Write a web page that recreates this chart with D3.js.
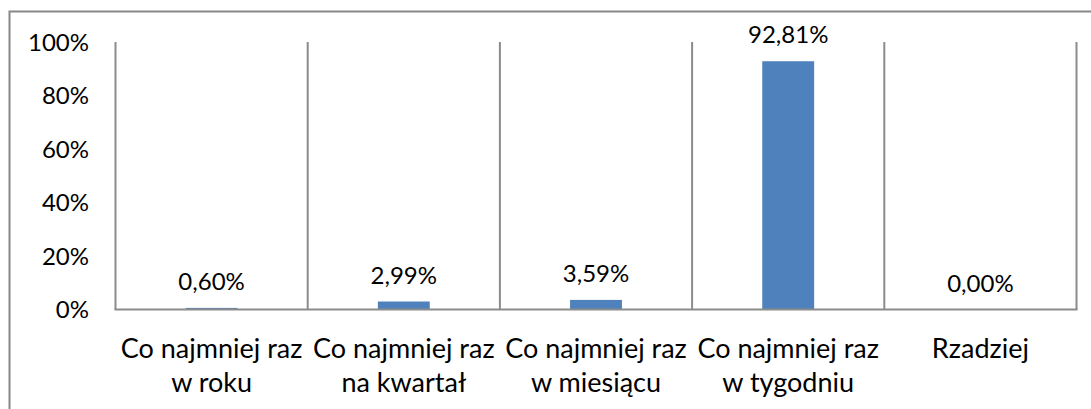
<!DOCTYPE html>
<html>
<head>
<meta charset="utf-8">
<script src="https://cdn.jsdelivr.net/npm/d3@7"></script>
<style>
  html, body { margin: 0; padding: 0; background: #fff; }
  svg { display: block; }
  text { font-family: Lato, "Open Sans", sans-serif; fill: #000; }
</style>
</head>
<body>
<svg id="chart" width="1091" height="409"></svg>
<script>
const categories = [
  ["Co najmniej raz", "w roku"],
  ["Co najmniej raz", "na kwartał"],
  ["Co najmniej raz", "w miesiącu"],
  ["Co najmniej raz", "w tygodniu"],
  ["Rzadziej"]
];
const values = [0.60, 2.99, 3.59, 92.81, 0.00];
const valueLabels = ["0,60%", "2,99%", "3,59%", "92,81%", "0,00%"];
const yTicks = [0, 20, 40, 60, 80, 100];

(function () {
const svg = d3.select("#chart");
const W = 1091, H = 409;
const fsNum = 24, fsCat = 27;

svg.append("rect")
  .attr("x", 9.5).attr("y", 11.5)
  .attr("width", W + 20).attr("height", H + 20)
  .attr("fill", "#fff").attr("stroke", "#888").attr("stroke-width", 2);

const pL = 115.5, pR = 1076.5, pT = 42, pB = 309.5;
const idx = categories.map((d, i) => i);
const x = d3.scaleBand().domain(idx).range([pL, pR]).padding(0);
const y = d3.scaleLinear().domain([0, 100]).range([pB, pT]);

const barW = x.bandwidth() * 0.27;
svg.append("g").selectAll("rect").data(values).join("rect")
  .attr("x", (d, i) => x(i) + x.bandwidth() / 2 - barW / 2)
  .attr("width", barW)
  .attr("y", d => y(d))
  .attr("height", d => Math.max(0, pB - y(d)))
  .attr("fill", "#4f81bd");

const bounds = idx.map(i => x(i)).concat([pR]);
svg.append("g").selectAll("line").data(bounds).join("line")
  .attr("x1", d => d).attr("x2", d => d)
  .attr("y1", y(100)).attr("y2", pB)
  .attr("stroke", "#8c8c8c").attr("stroke-width", 2);

svg.append("line")
  .attr("x1", pL - 1).attr("x2", pR + 1)
  .attr("y1", pB).attr("y2", pB)
  .attr("stroke", "#8c8c8c").attr("stroke-width", 2);

const yAxis = d3.axisLeft(y).tickValues(yTicks).tickSize(0).tickPadding(0)
  .tickFormat(d => d + "%");
const ya = svg.append("g").attr("transform", "translate(89,0)").call(yAxis);
ya.select(".domain").remove();
ya.selectAll("text")
  .attr("font-family", "Lato, sans-serif")
  .attr("font-size", fsNum).attr("fill", "#000")
  .attr("dy", "0.34em").attr("x", 0);

svg.append("g").selectAll("text").data(values).join("text")
  .attr("x", (d, i) => x(i) + x.bandwidth() / 2)
  .attr("y", d => y(d) - 18)
  .attr("text-anchor", "middle")
  .attr("font-size", fsNum)
  .text((d, i) => valueLabels[i]);

const cg = svg.append("g").selectAll("text").data(categories).join("text")
  .attr("x", (d, i) => x(i) + x.bandwidth() / 2)
  .attr("y", 358)
  .attr("text-anchor", "middle")
  .attr("font-size", fsCat);
cg.selectAll("tspan").data(d => d).join("tspan")
  .attr("x", function () { return this.parentNode.getAttribute("x"); })
  .attr("dy", (d, j) => j === 0 ? 0 : 34)
  .text(d => d);
})();
</script>
</body>
</html>
